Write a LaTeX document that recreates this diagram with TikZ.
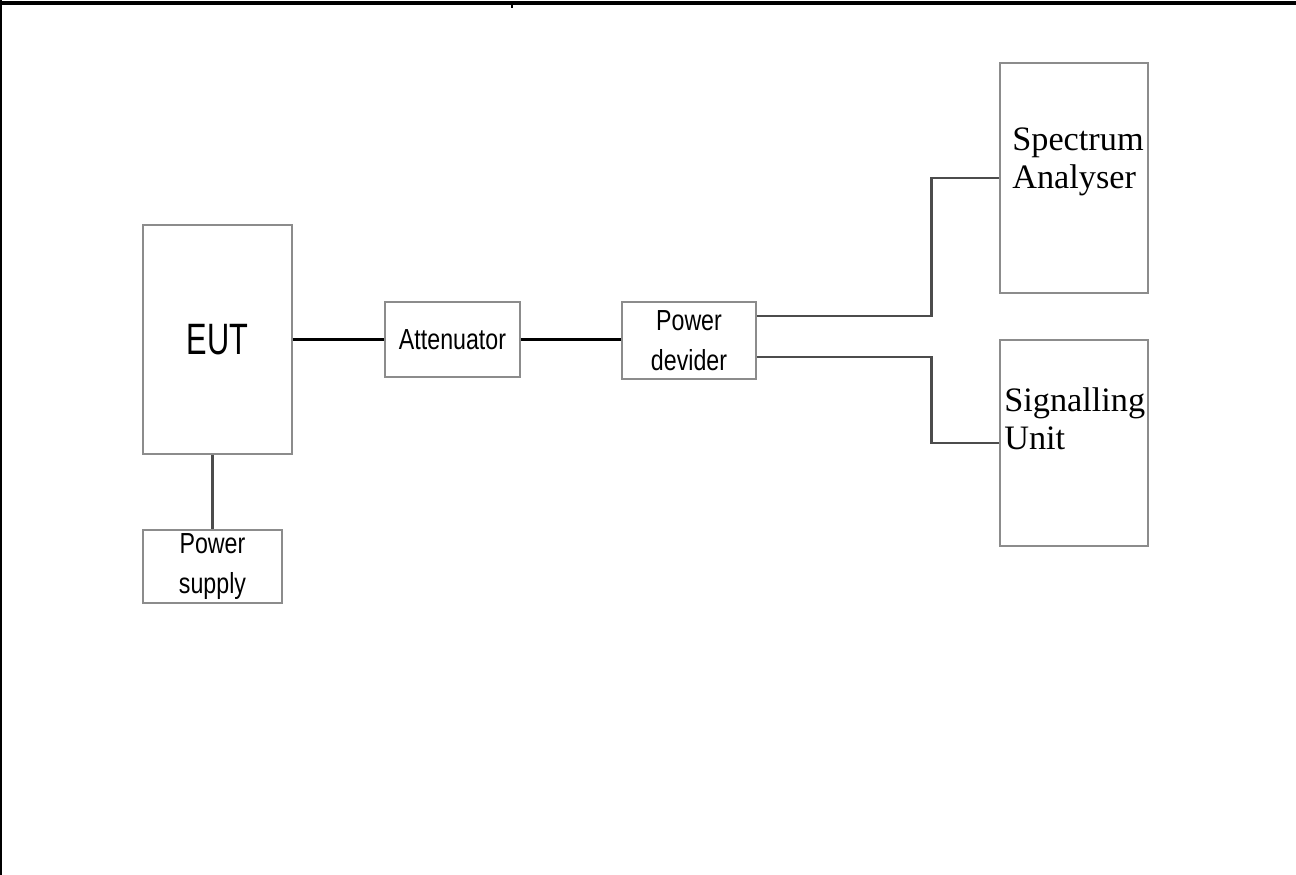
\documentclass[tikz,border=0pt]{standalone}
\usepackage{fontspec}
\setmainfont{Liberation Serif}
\newfontfamily\condsans[FakeStretch=0.8]{Liberation Sans}
\newfontfamily\narrowsans[FakeStretch=0.7]{Liberation Sans}
\definecolor{boxgray}{gray}{0.55}
\definecolor{wiregray}{gray}{0.3}
\begin{document}
\begin{tikzpicture}[x=0.02cm, y=-0.02cm,
  unit/.style={draw=boxgray, line width=1.1pt, inner sep=0pt, align=center,
    font=\condsans\fontsize{16.5}{22.7}\selectfont},
  tag/.style={inner sep=0pt, anchor=north west, align=left,
    font=\fontsize{19.5}{22}\selectfont},
  wire/.style={line width=1.8pt, black},
  feed/.style={line width=1.7pt, wiregray}]
\useasboundingbox (0,0) rectangle (1296,875);

% Frame
\draw[line width=1.8pt] (0,3) -- (1296,3);
\draw[line width=0.8pt] (512,3) -- (512,8);
\draw[line width=1pt] (1,0) -- (1,875);

% Units
\node[unit, minimum width=2.98cm, minimum height=4.58cm,
  font=\narrowsans\fontsize{25}{28}\selectfont] (eut) at (217.5,339.5) {EUT};
\node[unit, minimum width=2.7cm, minimum height=1.5cm] (att) at (452.5,339.5) {Attenuator};
\node[unit, minimum width=2.68cm, minimum height=1.54cm] (pd) at (689,340.5) {Power\\devider};
\node[unit, minimum width=2.78cm, minimum height=1.46cm] (ps) at (212.5,566.5) {Power\\supply};
\node[unit, minimum width=2.96cm, minimum height=4.6cm] (sa) at (1074,178) {};
\node[unit, minimum width=2.96cm, minimum height=4.12cm] (su) at (1074,443) {};

% Labels
\node[tag] (satext) at (1012,127) {Spectrum\\Analyser};
\node[tag] (sutext) at (1004,387) {Signalling\\Unit};

% Connections
\draw[wire] (eut.east) -- (att.west);
\draw[wire] (att.east) -- (att.east -| pd.west);
\draw[feed] ([yshift=0.49cm]pd.east) -- ++(3.5cm,0) |- (sa.west);
\draw[feed] ([yshift=-0.33cm]pd.east) -- ++(3.5cm,0) |- (su.west);
\draw[feed, line width=1.2pt] (ps.north |- eut.south) -- (ps.north);
\end{tikzpicture}
\end{document}
